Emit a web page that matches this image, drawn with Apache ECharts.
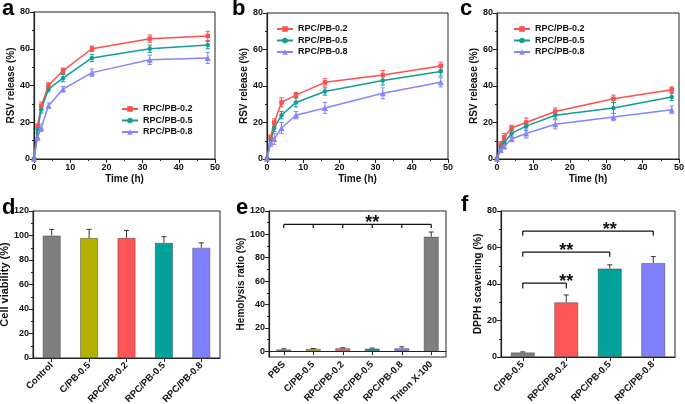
<!DOCTYPE html>
<html><head><meta charset="utf-8">
<script src="https://cdn.jsdelivr.net/npm/echarts@6/dist/echarts.min.js"></script>
<style>html,body{margin:0;padding:0;background:#fff}#c{width:685px;height:404px}</style>
</head><body><div id="c"></div>
<script>
// ---------- data ----------
const timeH = [0, 1, 2, 4, 8, 16, 32, 48];
const seriesNames = ['RPC/PB-0.2', 'RPC/PB-0.5', 'RPC/PB-0.8'];
// panel a
const relA02 = [0, 18, 29, 40, 48, 60, 65.5, 67];
const errA02 = [0, 1, 2, 1.5, 1.5, 1.5, 2, 2.5];
const relA05 = [0, 16, 27, 38, 44, 55, 60, 62];
const errA05 = [0, 1.5, 2, 1.5, 2, 2, 2, 2];
const relA08 = [0, 12, 17, 29, 38, 47, 54, 55];
const errA08 = [0, 2, 2, 1.5, 1.5, 2, 2.5, 3];
// panel b
const relB02 = [0, 12, 20, 31, 35, 42, 46, 51];
const errB02 = [0, 1, 2, 2.5, 1.5, 2, 2.5, 2];
const relB05 = [0, 10, 17, 24, 31, 37, 43, 48];
const errB05 = [0, 1.5, 2, 2, 2.5, 2, 2.5, 2.5];
const relB08 = [0, 9, 11, 17, 24, 28, 36, 42];
const errB08 = [0, 2, 3, 3, 2, 3, 3, 2.5];
// panel c
const relC02 = [0, 8, 12, 17, 20, 26, 33, 38];
const errC02 = [0, 1.5, 2, 1.5, 2.5, 2, 2, 1.5];
const relC05 = [0, 6, 9, 14, 18, 24, 28, 34];
const errC05 = [0, 1.5, 1.5, 2, 2.5, 2, 3, 2];
const relC08 = [0, 5, 7, 11, 14, 19, 23, 27];
const errC08 = [0, 1, 1.5, 1.5, 2.5, 2.5, 2, 2];
// panel d
const catsD = ['Control', 'C/PB-0.5', 'RPC/PB-0.2', 'RPC/PB-0.5', 'RPC/PB-0.8'];
const viabD = [100, 98, 98, 94, 90];
const errD = [5, 7, 6, 5, 4];
// panel e
const catsE = ['PBS', 'C/PB-0.5', 'RPC/PB-0.2', 'RPC/PB-0.5', 'RPC/PB-0.8', 'Triton X-100'];
const hemoE = [1.5, 2, 2.5, 2.2, 2.5, 98];
const errE = [0.5, 0.3, 0.4, 0.4, 1.2, 4];
const bracketE = [[0, 5, 108.5, 105.5]];
// panel f
const catsF = ['C/PB-0.5', 'RPC/PB-0.2', 'RPC/PB-0.5', 'RPC/PB-0.8'];
const dpphF = [2.5, 30, 48.5, 51.5];
const errF = [0.3, 4, 2, 3.5];
const bracketsF = [[0, 1, 40.5, 37.5], [0, 2, 57.5, 55], [0, 3, 69, 66.5]];
const yTicksE = [0, 20, 40, 60, 80, 100, 120];
const yMinorE = [10, 30, 50, 70, 90, 110];

// ---------- styles ----------
const FF = "'Liberation Sans', Arial, sans-serif";
const lineColors = ['#ff5050', '#139e92', '#8585ff'];
const symbols = ['rect', 'circle', 'triangle'];
const colGray = '#7f7f7f', colOlive = '#b5b000', colRed = '#ff5555', colTeal = '#00a29a', colBlue = '#8080ff';
const barColD = [colGray, colOlive, colRed, colTeal, colBlue];
const barColE = [colGray, colOlive, colRed, colTeal, colBlue, colGray];
const barColF = [colGray, colRed, colTeal, colBlue];
const AX = '#222';

const grids = [
  { left: 34, top: 12, width: 181, height: 147 },
  { left: 267, top: 13, width: 181, height: 146 },
  { left: 497, top: 13, width: 182, height: 146 },
  { left: 33, top: 211, width: 187, height: 147 },
  { left: 269, top: 211, width: 177, height: 146 },
  { left: 501, top: 211, width: 174, height: 146 }
].map(g => Object.assign({ show: true, borderColor: AX, borderWidth: 1, containLabel: false, outerBoundsMode: 'none' }, g));

const labelStyle = { fontFamily: FF, fontWeight: 'bold', fontSize: 9, color: '#111', margin: 4 };
function nameStyle(sz) { return { fontFamily: FF, fontWeight: 'bold', fontSize: sz, color: '#111' }; }

function timeAxis(gi) {
  return {
    type: 'value', gridIndex: gi, min: 0, max: 50, interval: 10,
    name: 'Time (h)', nameLocation: 'middle', nameGap: 15, nameTextStyle: nameStyle(10),
    axisLine: { show: true, lineStyle: { color: AX, width: 1.2 } },
    axisTick: { show: true, length: 4, lineStyle: { color: AX } },
    minorTick: { show: true, splitNumber: 2, length: 2, lineStyle: { color: AX } },
    splitLine: { show: false }, minorSplitLine: { show: false },
    axisLabel: Object.assign({}, labelStyle, { margin: 4 })
  };
}
function valAxis(gi, name, min, max, gap, sz) {
  return {
    type: 'value', gridIndex: gi, min: min, max: max, interval: 20,
    name: name, nameLocation: 'middle', nameGap: gap, nameTextStyle: nameStyle(sz),
    axisLine: { show: true, lineStyle: { color: AX, width: 1.2 } },
    axisTick: { show: true, length: 4, lineStyle: { color: AX } },
    minorTick: { show: true, splitNumber: 2, length: 2, lineStyle: { color: AX } },
    splitLine: { show: false }, minorSplitLine: { show: false },
    axisLabel: labelStyle
  };
}
function catAxis(gi, cats) {
  return {
    type: 'category', gridIndex: gi, data: cats,
    axisLine: { show: true, lineStyle: { color: AX, width: 1.2 } },
    axisTick: { show: true, alignWithLabel: true, length: 4, lineStyle: { color: AX } },
    splitLine: { show: false },
    axisLabel: Object.assign({}, labelStyle, { fontSize: 9.5, rotate: 45, interval: 0, margin: 6 })
  };
}

const xAxis = [timeAxis(0), timeAxis(1), timeAxis(2), catAxis(3, catsD), catAxis(4, catsE), catAxis(5, catsF)];
const yAxis = [
  valAxis(0, 'RSV release (%)', 0, 80, 16, 10),
  valAxis(1, 'RSV release (%)', 0, 80, 16, 10),
  valAxis(2, 'RSV release (%)', 0, 80, 16, 10),
  valAxis(3, 'Cell viability (%)', 0, 120, 16, 11),
  {
    type: 'value', gridIndex: 4, min: -5, max: 120,
    name: 'Hemolysis ratio (%)', nameLocation: 'middle', nameGap: 19, nameTextStyle: nameStyle(10),
    axisLine: { show: true, lineStyle: { color: AX, width: 1.2 } },
    axisTick: { show: true, length: 4, customValues: yTicksE, lineStyle: { color: AX } },
    splitLine: { show: false },
    axisLabel: Object.assign({}, labelStyle, { customValues: yTicksE })
  },
  valAxis(5, 'DPPH scavening (%)', 0, 80, 17, 10.3),
  {
    type: 'value', gridIndex: 4, min: -5, max: 120, position: 'left',
    axisLine: { show: false },
    axisTick: { show: true, length: 2, customValues: yMinorE, lineStyle: { color: AX } },
    splitLine: { show: false },
    axisLabel: { show: false }
  }
];

const series = [];
function errRender(color) {
  return function (params, api) {
    const x = api.value(0), y = api.value(1), e = api.value(2);
    if (!e) return null;
    const t = api.coord([x, y + e]), b = api.coord([x, y - e]);
    const hw = 2.2;
    const st = { stroke: color, lineWidth: 1 };
    return { type: 'group', children: [
      { type: 'line', shape: { x1: t[0], y1: t[1], x2: b[0], y2: b[1] }, style: st },
      { type: 'line', shape: { x1: t[0] - hw, y1: t[1], x2: t[0] + hw, y2: t[1] }, style: st },
      { type: 'line', shape: { x1: b[0] - hw, y1: b[1], x2: b[0] + hw, y2: b[1] }, style: st }
    ] };
  };
}
function addRelease(gi, vals, errs) {
  vals.forEach((v, k) => {
    series.push({
      type: 'line', name: seriesNames[k], xAxisIndex: gi, yAxisIndex: gi,
      data: timeH.map((t, i) => [t, v[i]]),
      symbol: symbols[k], symbolSize: k === 2 ? 6 : 4.5, showSymbol: true,
      lineStyle: { color: lineColors[k], width: 1.5 }, itemStyle: { color: lineColors[k] },
      animation: false, z: 3
    });
    series.push({
      type: 'custom', name: 'err' + gi + k, xAxisIndex: gi, yAxisIndex: gi,
      data: timeH.map((t, i) => [t, v[i], errs[k][i]]),
      renderItem: errRender(lineColors[k]), animation: false, z: 2,
      encode: { x: 0, y: 1 }
    });
  });
}
addRelease(0, [relA02, relA05, relA08], [errA02, errA05, errA08]);
addRelease(1, [relB02, relB05, relB08], [errB02, errB05, errB08]);
addRelease(2, [relC02, relC05, relC08], [errC02, errC05, errC08]);

function barUpErr(params, api) {
  const x = api.value(0), y = api.value(1), e = api.value(2);
  const t = api.coord([x, y + e]), b = api.coord([x, y]);
  const hw = 2.5, st = { stroke: '#333', lineWidth: 1 };
  return { type: 'group', children: [
    { type: 'line', shape: { x1: t[0], y1: t[1], x2: b[0], y2: b[1] }, style: st },
    { type: 'line', shape: { x1: t[0] - hw, y1: t[1], x2: t[0] + hw, y2: t[1] }, style: st }
  ] };
}
function addBars(gi, vals, errs, cols, bw) {
  series.push({
    type: 'bar', name: 'bar' + gi, xAxisIndex: gi, yAxisIndex: gi, barWidth: bw,
    data: vals.map((v, i) => ({ value: v, itemStyle: { color: cols[i], borderColor: 'rgba(60,60,60,0.55)', borderWidth: 0.8 } })),
    animation: false, z: 2
  });
  series.push({
    type: 'custom', name: 'barerr' + gi, xAxisIndex: gi, yAxisIndex: gi,
    data: vals.map((v, i) => [i, v, errs[i]]), renderItem: barUpErr, animation: false, z: 3,
    encode: { x: 0, y: 1 }
  });
}
addBars(3, viabD, errD, barColD, 18);
addBars(4, hemoE, errE, barColE, 15);
addBars(5, dpphF, errF, barColF, 24);

function bracketRender(allTicks) {
  return function (params, api) {
    const x1 = api.value(0), x2 = api.value(1), y = api.value(2), yd = api.value(3);
    const a = api.coord([x1, y]), b = api.coord([x2, y]);
    const d = api.coord([x1, yd]);
    const st = { stroke: '#111', lineWidth: 1.2 };
    const ch = [{ type: 'line', shape: { x1: a[0], y1: a[1], x2: b[0], y2: b[1] }, style: st }];
    const xs = [];
    if (allTicks) { for (let i = x1; i <= x2; i++) xs.push(i); } else { xs.push(x1, x2); }
    xs.forEach(i => {
      const p = api.coord([i, y]);
      ch.push({ type: 'line', shape: { x1: p[0], y1: a[1], x2: p[0], y2: d[1] }, style: st });
    });
    const m = api.coord([(x1 + x2) / 2, y]);
    ch.push({ type: 'text', x: m[0], y: m[1] + 8, style: { text: '**', fill: '#111', font: 'bold 18px ' + FF, align: 'center', verticalAlign: 'bottom' } });
    return { type: 'group', children: ch };
  };
}
series.push({ type: 'custom', name: 'brE', xAxisIndex: 4, yAxisIndex: 4, data: bracketE, renderItem: bracketRender(true), animation: false, z: 4, encode: { x: 0, y: 2 } });
series.push({ type: 'custom', name: 'brF', xAxisIndex: 5, yAxisIndex: 5, data: bracketsF, renderItem: bracketRender(false), animation: false, z: 4, encode: { x: 0, y: 2 } });

const legTxt = { fontFamily: FF, fontWeight: 'bold', fontSize: 9, color: '#111', lineHeight: 10 };
function leg(left, top) {
  return { data: seriesNames, left: left, top: top, orient: 'vertical', itemGap: 1.5, itemWidth: 16, itemHeight: 7, padding: 0, textStyle: legTxt, selectedMode: false };
}
const legend = [leg(121, 104), leg(276, 24), leg(513, 24)];

const panelFont = 'bold 22px "Liberation Sans", Arial, sans-serif';
const panelLetters = [['a', 2, -2], ['b', 232, -2], ['c', 460, -2], ['d', 2, 197], ['e', 236, 197], ['f', 461, 194]];
const graphic = panelLetters.map(p => ({ type: 'text', x: p[1], y: p[2], style: { text: p[0], font: panelFont, fill: '#000' } }));

const chart = echarts.init(document.getElementById('c'), null, { renderer: 'canvas' });
chart.setOption({ animation: false, grid: grids, xAxis: xAxis, yAxis: yAxis, series: series, legend: legend, graphic: graphic });
</script></body></html>
